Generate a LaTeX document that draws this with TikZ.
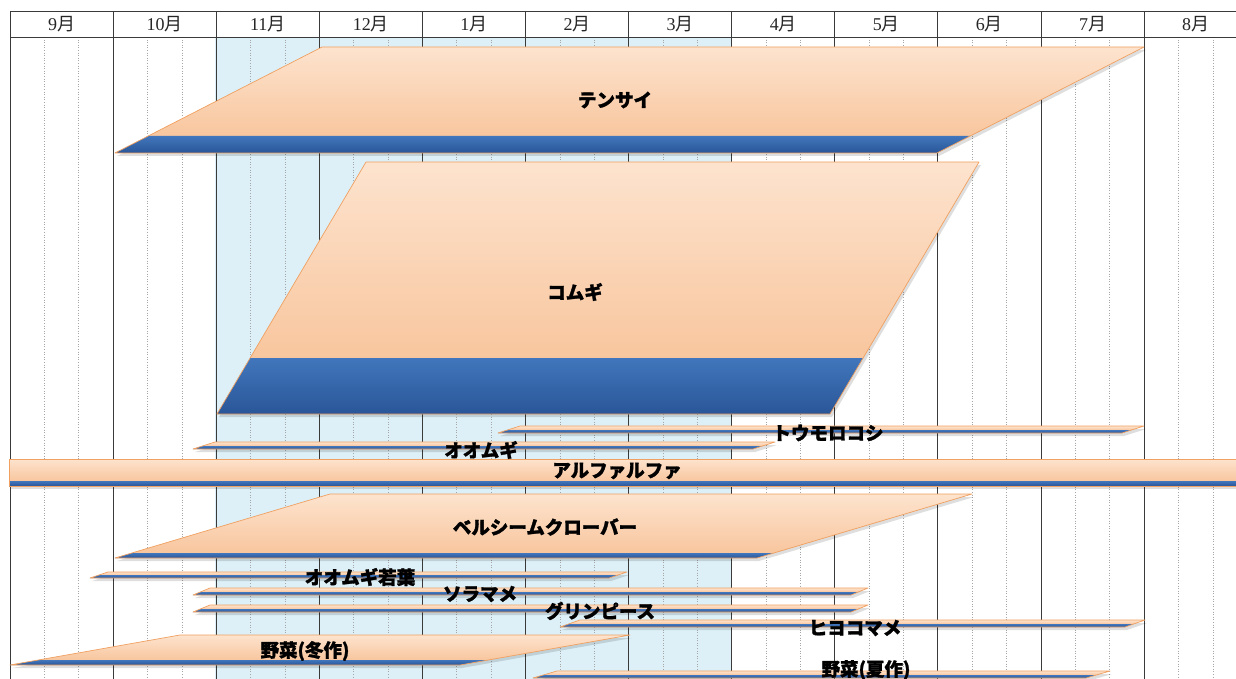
\documentclass[tikz,border=0pt]{standalone}
\usepackage{fontspec}
\newfontfamily\jp{Noto Sans CJK JP}[BoldFeatures={FakeBold=1.5}]
\newfontfamily\mfont{Liberation Serif}
\definecolor{peachA}{HTML}{FDE3CE}
\definecolor{peachB}{HTML}{F8C69E}
\definecolor{edgeO}{HTML}{F0A060}
\definecolor{blueA}{HTML}{4176BC}
\definecolor{blueB}{HTML}{2A5698}
\definecolor{skyb}{HTML}{DDF0F8}
\definecolor{gridc}{HTML}{3A3A3A}
\newcommand\cropbar[6]{%
  \pgfmathsetmacro\cbym{#4-#6}%
  \pgfmathsetmacro\cbom{#5/(#4-#3)*(\cbym-#3)}%
  \fill[black,opacity=0.13] ({#1+2},{#3+3}) -- ({#2+2},{#3+3}) -- ({#2-#5+2},{#4+3}) -- ({#1-#5+2},{#4+3}) -- cycle;
  \shade[top color=peachA,bottom color=peachB] (#1,#3) -- (#2,#3) -- ({#2-\cbom},\cbym) -- ({#1-\cbom},\cbym) -- cycle;
  \shade[top color=blueA,bottom color=blueB] ({#1-\cbom},\cbym) -- ({#2-\cbom},\cbym) -- ({#2-#5},#4) -- ({#1-#5},#4) -- cycle;
  \draw[edgeO,line width=0.7,line join=round] (#1,#3) -- (#2,#3) -- ({#2-#5},#4) -- ({#1-#5},#4) -- cycle;
}
\begin{document}
\begin{tikzpicture}[x=1pt,y=-1pt,
  lbl/.style={font=\jp\bfseries\fontsize{18.5}{20}\selectfont, inner sep=0pt},
  mlbl/.style={font=\fontsize{18}{20}\selectfont, text=black!85, inner sep=0pt},
  month/.style={gridc, line width=0.9},
  third/.style={gray!70, dotted, line width=0.6}]
\useasboundingbox (0,0) rectangle (1236,679);
\begin{scope}
\clip (0,0) rectangle (1236,679);
\fill[white] (0,0) rectangle (1236,679);
\fill[skyb] (215,37) rectangle (731,679);
\foreach \k in {0,...,11} {
  \draw[third] ({10+103.1*(\k+1/3)},37) -- ({10+103.1*(\k+1/3)},679);
  \draw[third] ({10+103.1*(\k+2/3)},37) -- ({10+103.1*(\k+2/3)},679);
}
\foreach \k in {0,...,12} {
  \draw[month] ({10+103.1*\k},11) -- ({10+103.1*\k},679);
}
\draw[month] (10,11) -- (1236,11);
\draw[month] (10,37) -- (1236,37);
\foreach \t [count=\i from 0] in {9,10,11,12,1,2,3,4,5,6,7,8} {
  \node[mlbl] (m\i) at ({10+103.1*(\i+0.5)},24.5) {{\mfont\t}{\jp 月}};
}
% bars
\cropbar{322}{1144}{47}{153}{207}{17}
\cropbar{366}{979}{162}{414}{149}{56}
\cropbar{520}{1144}{426}{433}{22}{3}
\cropbar{215}{775}{442}{449}{22}{3}
\cropbar{9}{1245}{459}{486}{0}{5}
\cropbar{330}{972}{494}{558}{215}{5}
\cropbar{108}{627}{572}{578}{18}{3}
\cropbar{210}{868}{588}{595}{17}{3}
\cropbar{210}{868}{605}{612}{17}{3}
\cropbar{580}{1145}{620}{627}{20}{3}
\cropbar{180}{630}{635}{665}{170}{5}
\cropbar{557}{1110}{671}{678}{24}{3}
% labels
\node[lbl] (l1) at (615,100) {テンサイ};
\node[lbl] (l2) at (575,292) {コムギ};
\node[lbl] (l3) at (828,433) {トウモロコシ};
\node[lbl] (l4) at (481,450) {オオムギ};
\node[lbl] (l5) at (617,471) {アルファルファ};
\node[lbl] (l6) at (545,527) {ベルシームクローバー};
\node[lbl] (l7) at (360,577) {オオムギ若葉};
\node[lbl] (l8) at (480,594) {ソラマメ};
\node[lbl] (l9) at (600,611) {グリンピース};
\node[lbl] (l10) at (855,628) {ヒヨコマメ};
\node[lbl] (l11) at (305,651) {野菜(冬作)};
\node[lbl] (l12) at (866,670) {野菜(夏作)};
\end{scope}
\end{tikzpicture}
\end{document}
